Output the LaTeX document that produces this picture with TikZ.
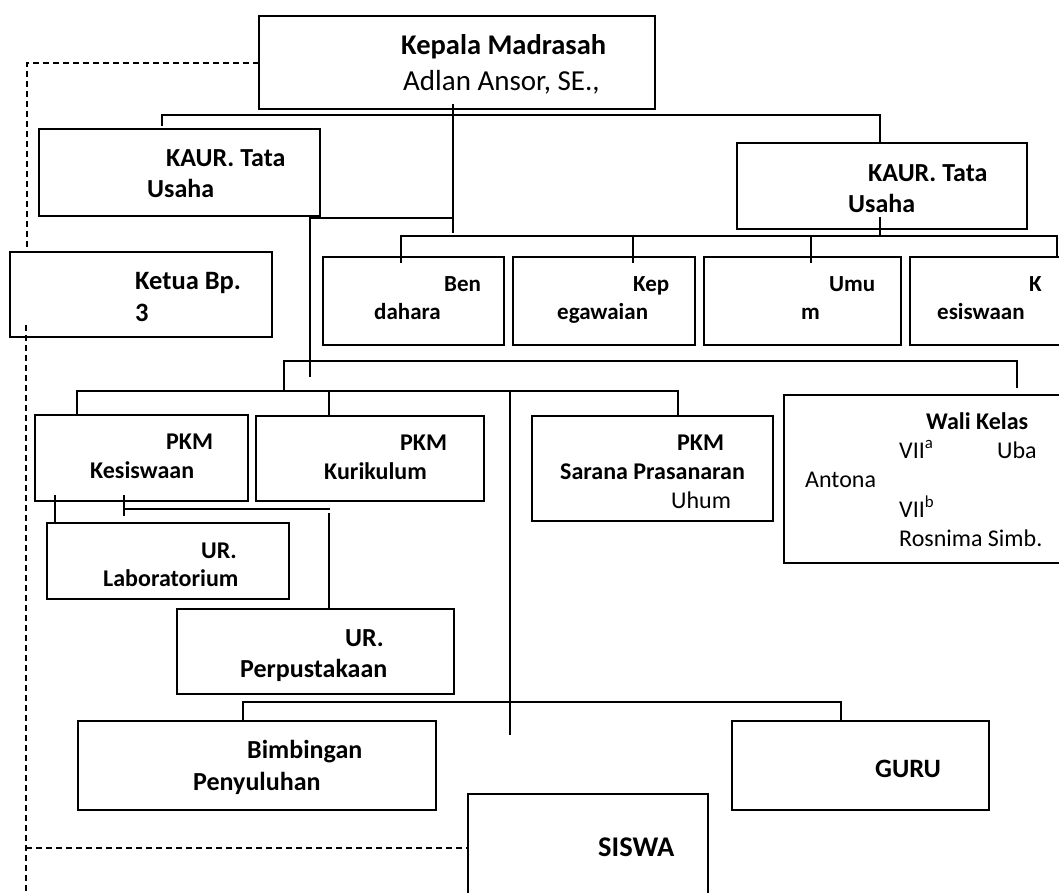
\documentclass[tikz,border=0pt]{standalone}
\usepackage{fontspec}
\setmainfont{Carlito}
\usetikzlibrary{calc}
\tikzset{
  box/.style={draw, line width=1.8pt, inner sep=0pt, outer sep=0pt, anchor=north west},
  conn/.style={line width=1.5pt},
  dsh/.style={line width=1.4pt, dash pattern=on 6pt off 4pt},
  tb/.style={anchor=base west, inner sep=0pt, font=\fontsize{#1}{#1}\selectfont\bfseries},
  tn/.style={anchor=base west, inner sep=0pt, font=\fontsize{#1}{#1}\selectfont},
}
\begin{document}
\begin{tikzpicture}[x=1pt,y=-1pt]
\useasboundingbox (0,0) rectangle (1059,893);
% boxes
\node[box, minimum width=396pt, minimum height=93pt] (kep) at (259,16) {};
\node[box, minimum width=281pt, minimum height=87pt] (kaurL) at (39,129) {};
\node[box, minimum width=290pt, minimum height=86pt] (kaurR) at (737,143) {};
\node[box, minimum width=262pt, minimum height=85pt] (ketua) at (10,252) {};
\node[box, minimum width=181pt, minimum height=88pt] (ben) at (323,257) {};
\node[box, minimum width=182pt, minimum height=88pt] (peg) at (513,257) {};
\node[box, minimum width=197pt, minimum height=88pt] (umum) at (704,257) {};
\node[box, minimum width=160pt, minimum height=88pt] (kesw) at (910,257) {};
\node[box, minimum width=213pt, minimum height=86pt] (pkmkes) at (35,415) {};
\node[box, minimum width=228pt, minimum height=85pt] (pkmkur) at (256,416) {};
\node[box, minimum width=241pt, minimum height=105pt] (sarana) at (532,416) {};
\node[box, minimum width=290pt, minimum height=168pt] (wali) at (784,395) {};
\node[box, minimum width=242pt, minimum height=76pt] (lab) at (47,523) {};
\node[box, minimum width=277pt, minimum height=85pt] (perpus) at (177,609) {};
\node[box, minimum width=358pt, minimum height=89pt] (bk) at (78,721) {};
\node[box, minimum width=257pt, minimum height=89pt] (guru) at (732,721) {};
\node[box, minimum width=240pt, minimum height=120pt] (siswa) at (468,794) {};
% texts
\node[tb=28.5] (t1) at (401,55) {Kepala Madrasah};
\node[tn=29] (t2) at (403,91) {Adlan Ansor, SE.,};
\node[tb=26] (t3) at (166,167) {KAUR. Tata};
\node[tb=26] (t4) at (147,198) {Usaha};
\node[tb=26] (t5) at (868,182) {KAUR. Tata};
\node[tb=26] (t6) at (848,213) {Usaha};
\node[tb=26.5] (t7) at (135,289) {Ketua Bp.};
\node[tb=26.5] (t8) at (135,321) {3};
\node[tb=23] (t9) at (444,291) {Ben};
\node[tb=23] (t10) at (374,319) {dahara};
\node[tb=23] (t11) at (633,291) {Kep};
\node[tb=23] (t12) at (557,319) {egawaian};
\node[tb=23] (t13) at (829,291) {Umu};
\node[tb=23] (t14) at (801,319) {m};
\node[tb=23] (t15) at (1029,291) {K};
\node[tb=23] (t16) at (937,319) {esiswaan};
\node[tb=24] (t17) at (166,449) {PKM};
\node[tb=24] (t18) at (90,478) {Kesiswaan};
\node[tb=24] (t19) at (400,450) {PKM};
\node[tb=24] (t20) at (324,479) {Kurikulum};
\node[tb=24] (t21) at (677,450) {PKM};
\node[tb=24] (t22) at (560,479) {Sarana Prasanaran};
\node[tn=24] (t23) at (671,508) {Uhum};
\node[tb=24] (t24) at (926,429) {Wali Kelas};
\node[tn=24] (t25) at (899,458) {VII\textsuperscript{a}};
\node[tn=24] (t26) at (997,458) {Uba};
\node[tn=24] (t27) at (805,487) {Antona};
\node[tn=24] (t28) at (899,517) {VII\textsuperscript{b}};
\node[tn=24] (t29) at (899,546) {Rosnima Simb.};
\node[tb=24] (t30) at (201,558) {UR.};
\node[tb=24] (t31) at (103,586) {Laboratorium};
\node[tb=26] (t32) at (345,646) {UR.};
\node[tb=26] (t33) at (240,677) {Perpustakaan};
\node[tb=26] (t34) at (247,758) {Bimbingan};
\node[tb=26] (t35) at (193,790) {Penyuluhan};
\node[tb=26.5] (t36) at (875,777) {GURU};
\node[tb=28.5] (t37) at (598,856) {SISWA};
% junction coordinates
\coordinate (k0) at (453,104);
\coordinate (k1) at (453,233);
\coordinate (bL) at (162,115);
\coordinate (bLe) at (162,126);
\coordinate (bR) at (880,115);
\coordinate (jA) at (453,218);
\coordinate (jB) at (310,218);
\coordinate (jC) at (310,377);
\coordinate (r0) at (880,217);
\coordinate (r1) at (880,236);
\coordinate (rb1) at (401,236);
\coordinate (rb2) at (633,236);
\coordinate (rb3) at (811,236);
\coordinate (rb4) at (1057,236);
\coordinate (m1) at (284,391);
\coordinate (m2) at (284,361);
\coordinate (m3) at (1017,361);
\coordinate (m4) at (1017,388);
\coordinate (l1) at (77,391);
\coordinate (l2) at (678,391);
\coordinate (l3) at (329,391);
\coordinate (v1) at (510,391);
\coordinate (v2) at (510,735);
\coordinate (s1) at (55,495);
\coordinate (s2) at (124,495);
\coordinate (s3) at (124,516);
\coordinate (s4) at (124,509);
\coordinate (s5) at (330,509);
\coordinate (s6) at (329,513);
\coordinate (g1) at (243,702);
\coordinate (g2) at (841,702);
% connectors
\draw[conn] (k0) -- (k1);
\draw[conn] (bLe) -- (bL) -- (bR) -- (kaurR.north -| bR);
\draw[conn] (jA) -- (jB) -- (jC);
\draw[conn] (r0) -- (r1);
\draw[conn] ($(ben.north -| rb1)+(0,6)$) -- (rb1) -- (rb4) -- (kesw.north -| rb4);
\draw[conn] (rb2) -- ($(peg.north -| rb2)+(0,6)$);
\draw[conn] (rb3) -- ($(umum.north -| rb3)+(0,6)$);
\draw[conn] (m1) -- (m2) -- (m3) -- (m4);
\draw[conn] (pkmkes.north -| l1) -- (l1) -- (l2) -- (sarana.north -| l2);
\draw[conn] (l3) -- (pkmkur.north -| l3);
\draw[conn] (v1) -- (v2);
\draw[conn] (s1) -- (lab.north -| s1);
\draw[conn] (s2) -- (s3);
\draw[conn] (s4) -- (s5);
\draw[conn] (s6) -- (perpus.north -| s6);
\draw[conn] (bk.north -| g1) -- (g1) -- (g2) -- (guru.north -| g2);
% dashed
\coordinate (d0) at (27,63);
\coordinate (d1) at (26,325);
\coordinate (d2) at (26,893);
\coordinate (d3) at (26,848);
\draw[dsh] (kep.west |- d0) -- (d0) -- (ketua.north -| d0);
\draw[dsh] (d1) -- (d2);
\draw[dsh] (d3) -- (siswa.west |- d3);
\end{tikzpicture}
\end{document}
